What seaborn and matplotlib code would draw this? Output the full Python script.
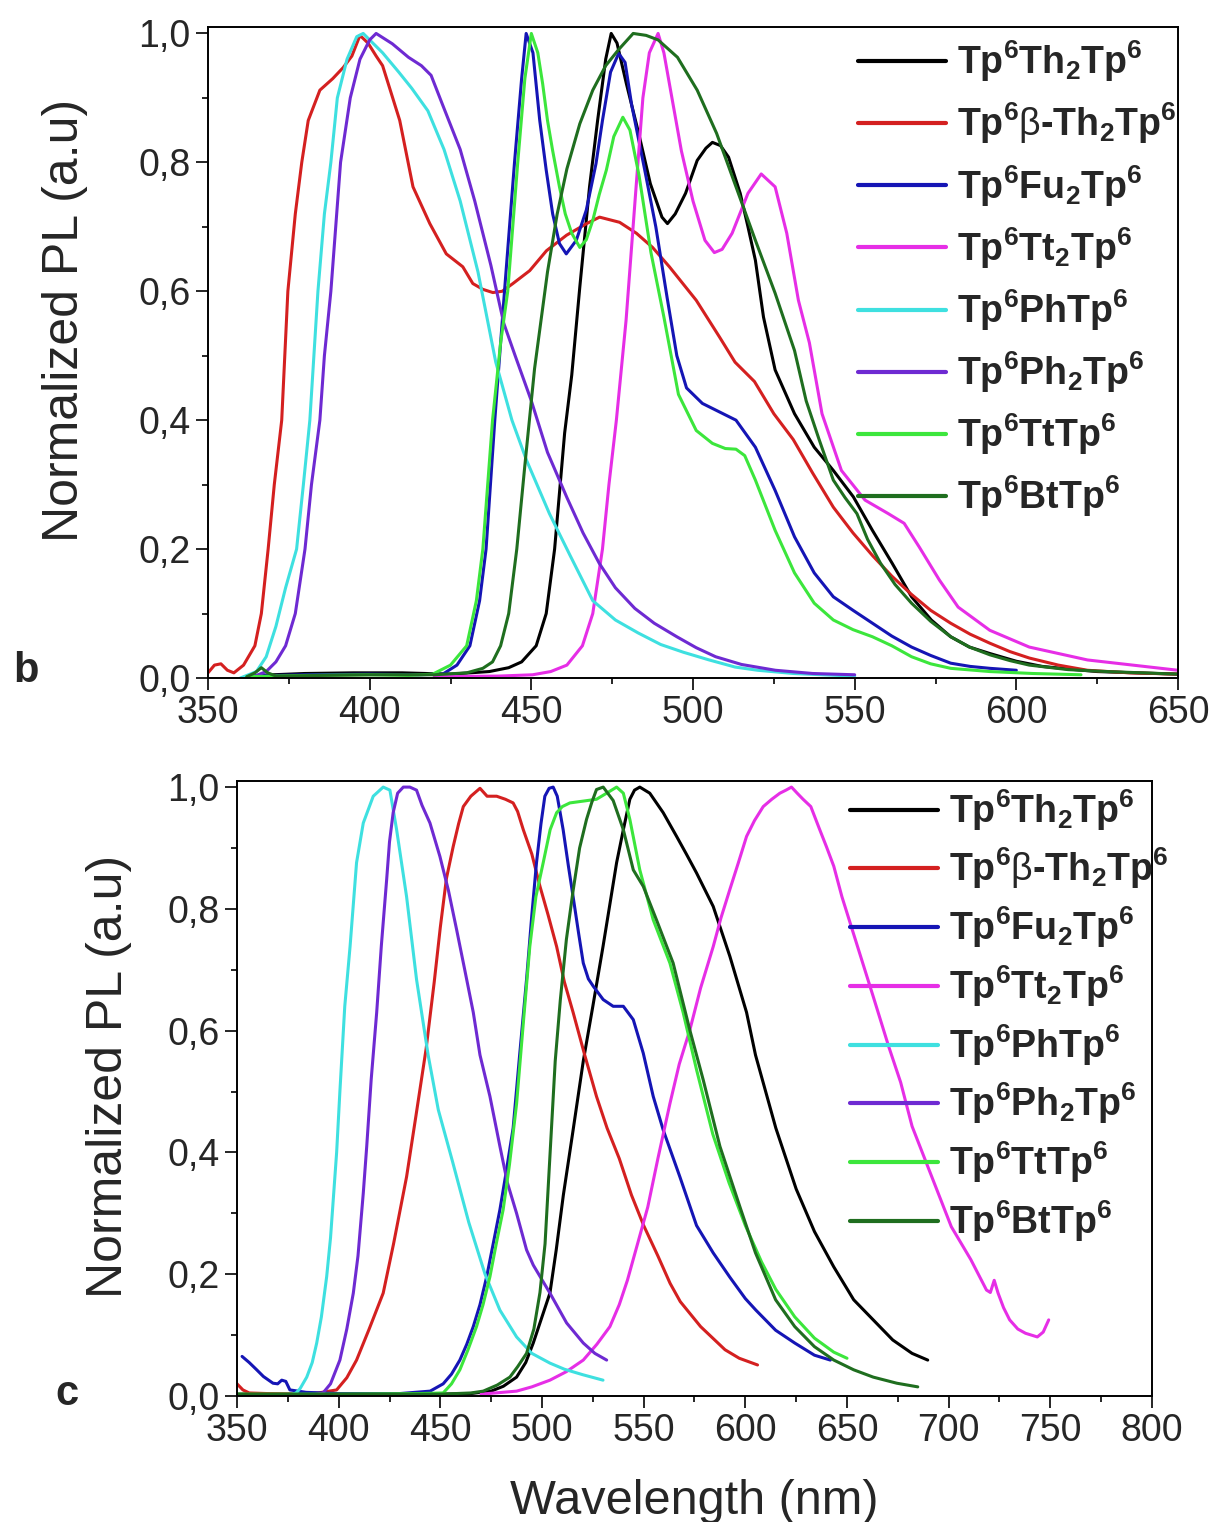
import numpy as np
import pandas as pd
import matplotlib
matplotlib.use("Agg")
import matplotlib.pyplot as plt
import seaborn as sns
from matplotlib.lines import Line2D
from matplotlib.ticker import MultipleLocator, FuncFormatter

# series names, legend labels, colours
names = ["Th2", "bTh2", "Fu2", "Tt2", "Ph", "Ph2", "Tt", "Bt"]
labels = [
    "Tp$^{6}$Th$_{2}$Tp$^{6}$",
    "Tp$^{6}$$\\mathrm{\\beta}$-Th$_{2}$Tp$^{6}$",
    "Tp$^{6}$Fu$_{2}$Tp$^{6}$",
    "Tp$^{6}$Tt$_{2}$Tp$^{6}$",
    "Tp$^{6}$PhTp$^{6}$",
    "Tp$^{6}$Ph$_{2}$Tp$^{6}$",
    "Tp$^{6}$TtTp$^{6}$",
    "Tp$^{6}$BtTp$^{6}$",
]
colors = ["#000000", "#d42020", "#1515b5", "#e62ee6",
          "#3ee0e0", "#6e2ad2", "#3ce63c", "#1f6e1f"]

# ---------------- panel b ----------------
b_th2_x = [365, 380, 395, 410, 425, 437, 443, 447, 451.5, 454.6, 457.2, 460.3, 462.5, 465, 468, 470.5, 473, 474.7,
           476.5, 479.4, 483.2, 486.8, 490.4, 492.1, 494.5, 497.7, 501.3, 504, 506, 508.5, 511, 514.6, 517, 519.3,
           521.8, 525.4, 531.4, 537.5, 543.4, 549.6, 555.5, 561.6, 567.6, 573.7, 579.7, 585.5, 591.8, 600, 608, 616,
           625, 637, 650]
b_th2_y = [0.004, 0.007, 0.008, 0.008, 0.006, 0.01, 0.016, 0.025, 0.05, 0.1, 0.2, 0.38, 0.47, 0.607, 0.762, 0.865,
           0.96, 1.0, 0.985, 0.922, 0.845, 0.767, 0.715, 0.705, 0.72, 0.752, 0.803, 0.822, 0.831, 0.826, 0.808, 0.752,
           0.7, 0.648, 0.56, 0.478, 0.41, 0.358, 0.322, 0.281, 0.229, 0.178, 0.126, 0.09, 0.064, 0.048, 0.038, 0.026,
           0.018, 0.014, 0.01, 0.008, 0.006]

b_bth2_x = [350, 352, 354, 356, 358, 361, 364.5, 366.5, 368.6, 370.5, 372.8, 374.7, 377, 379, 381, 384.6, 388.6,
            391.8, 394.5, 397, 399.5, 402, 404, 406.5, 409.3, 413.4, 418.6, 423.7, 428.8, 431.9, 435, 438.1, 441,
            444.3, 449.5, 454.7, 460.9, 467.1, 471.1, 477.3, 482.5, 487.5, 492.7, 501, 508.2, 513, 519, 525, 531, 537,
            543.4, 549.5, 555.5, 561.5, 567.5, 573.5, 579.7, 585.7, 591.8, 598, 604, 613, 622, 635, 650]
b_bth2_y = [0.008, 0.02, 0.022, 0.012, 0.008, 0.02, 0.05, 0.1, 0.2, 0.3, 0.4, 0.6, 0.72, 0.8, 0.865, 0.912, 0.93,
            0.947, 0.965, 0.997, 0.985, 0.965, 0.95, 0.91, 0.865, 0.762, 0.705, 0.658, 0.638, 0.612, 0.603, 0.598,
            0.6, 0.612, 0.632, 0.663, 0.687, 0.705, 0.715, 0.707, 0.69, 0.668, 0.638, 0.586, 0.529, 0.49, 0.46, 0.41,
            0.37, 0.318, 0.265, 0.225, 0.19, 0.158, 0.13, 0.105, 0.085, 0.068, 0.054, 0.041, 0.031, 0.02, 0.012,
            0.008, 0.006]

b_fu2_x = [362, 380, 400, 415, 422.6, 427, 431, 434, 436, 438.7, 441.7, 444.8, 447, 448.4, 450.5, 452.6, 454.6,
           456.6, 458.7, 460.8, 463.9, 467, 470, 472, 474.5, 477, 479, 481, 485, 488.5, 492, 495, 498, 502.9, 507.3,
           513.3, 519.3, 525.4, 531.4, 537.5, 543.4, 549.5, 555.5, 561.5, 567.6, 573.5, 579.7, 585.7, 591.8, 600]
b_fu2_y = [0.003, 0.005, 0.006, 0.005, 0.006, 0.02, 0.05, 0.12, 0.2, 0.4, 0.6, 0.8, 0.93, 1.0, 0.97, 0.865, 0.788,
           0.72, 0.674, 0.658, 0.679, 0.726, 0.798, 0.865, 0.94, 0.969, 0.955, 0.89, 0.79, 0.70, 0.59, 0.50, 0.45,
           0.426, 0.415, 0.40, 0.358, 0.291, 0.219, 0.163, 0.126, 0.105, 0.085, 0.065, 0.048, 0.035, 0.023, 0.018,
           0.015, 0.012]

b_tt2_x = [420, 440, 450.4, 456, 461, 465.8, 469, 472, 474, 476.3, 479.3, 482.4, 484.5, 486.5, 489.2, 491, 492.7,
           496.4, 500, 503.7, 506.6, 509, 512.1, 517, 521.1, 525.4, 529, 532.6, 536, 539.9, 545.9, 553.2, 560.4,
           565.3, 570, 576.2, 582, 591.8, 604, 622, 650]
b_tt2_y = [0.002, 0.003, 0.005, 0.01, 0.02, 0.05, 0.1, 0.2, 0.3, 0.4, 0.555, 0.762, 0.9, 0.97, 1.0, 0.97, 0.922,
           0.818, 0.74, 0.679, 0.66, 0.665, 0.69, 0.752, 0.782, 0.762, 0.69, 0.586, 0.52, 0.41, 0.322, 0.276, 0.255,
           0.24, 0.203, 0.152, 0.11, 0.074, 0.048, 0.028, 0.012]

b_ph_x = [360, 365, 368, 371, 374, 377.4, 379.5, 381.5, 384, 386, 388, 390, 393, 396, 398, 401, 404, 409, 413, 418,
          423, 428, 433.5, 439, 444, 448.5, 455.6, 462, 469, 476, 483, 490, 497, 505, 513, 520, 531, 540, 550]
b_ph_y = [0.0, 0.01, 0.033, 0.08, 0.14, 0.2, 0.3, 0.4, 0.6, 0.72, 0.8, 0.9, 0.96, 0.995, 1.0, 0.985, 0.97, 0.94,
          0.915, 0.88, 0.82, 0.74, 0.63, 0.49, 0.40, 0.338, 0.255, 0.19, 0.12, 0.09, 0.07, 0.052, 0.04, 0.028, 0.017,
          0.012, 0.007, 0.005, 0.003]

b_ph2_x = [363, 368, 371, 374, 377, 380, 382, 384.6, 386, 388, 391, 394, 397, 400, 402, 407, 412, 416, 419, 422.5,
           428, 432.5, 437.5, 441.5, 445, 450, 455, 461, 466, 471, 476, 482, 488, 495, 501, 507, 515, 525.5, 537, 550]
b_ph2_y = [0.0, 0.01, 0.025, 0.05, 0.1, 0.2, 0.3, 0.4, 0.5, 0.6, 0.8, 0.9, 0.96, 0.99, 1.0, 0.984, 0.963, 0.95,
           0.935, 0.89, 0.82, 0.74, 0.64, 0.55, 0.5, 0.43, 0.35, 0.28, 0.225, 0.178, 0.14, 0.108, 0.085, 0.064,
           0.047, 0.033, 0.021, 0.012, 0.007, 0.005]

b_tt_x = [362, 380, 400, 412, 419.5, 425, 430, 433, 435, 438, 440.5, 442.7, 445.8, 448, 450, 452, 453.5, 455, 456.6,
          458.7, 460.5, 462.5, 465, 467, 469, 471, 473.2, 475.5, 478.3, 480.5, 483.3, 487, 491, 495.5, 501, 506, 510,
          513.3, 516, 519.3, 525.4, 531.4, 537.5, 543.4, 549.5, 555.5, 561.5, 567.6, 573.5, 579.7, 591.8, 605, 620]
b_tt_y = [0.002, 0.004, 0.005, 0.004, 0.006, 0.02, 0.05, 0.12, 0.2, 0.4, 0.52, 0.6, 0.8, 0.93, 1.0, 0.97, 0.922,
          0.865, 0.818, 0.762, 0.72, 0.69, 0.668, 0.68, 0.71, 0.75, 0.788, 0.84, 0.87, 0.85, 0.78, 0.66, 0.56, 0.44,
          0.384, 0.364, 0.356, 0.355, 0.345, 0.307, 0.229, 0.163, 0.116, 0.09, 0.075, 0.064, 0.05, 0.033, 0.022,
          0.015, 0.01, 0.007, 0.005]

b_bt_x = [362, 364.5, 366.5, 368.5, 371, 385, 400, 420, 430, 435, 438, 440.5, 443, 445.5, 448, 451, 455, 458, 461,
          465, 469, 473, 477, 481.5, 485.5, 489.2, 495.2, 501.3, 507.3, 513.3, 519.3, 525.4, 531.4, 535, 539, 543.4,
          547, 550.7, 554, 558, 562.5, 567.6, 573.5, 579.7, 585.5, 591.8, 598, 604, 616, 628, 650]
b_bt_y = [0.002, 0.008, 0.016, 0.008, 0.003, 0.004, 0.005, 0.005, 0.008, 0.015, 0.025, 0.05, 0.1, 0.2, 0.33, 0.48,
          0.63, 0.72, 0.79, 0.86, 0.912, 0.95, 0.975, 1.0, 0.997, 0.99, 0.963, 0.912, 0.845, 0.762, 0.679, 0.597,
          0.508, 0.43, 0.37, 0.307, 0.28, 0.255, 0.215, 0.178, 0.145, 0.116, 0.088, 0.064, 0.048, 0.036, 0.027,
          0.02, 0.013, 0.01, 0.006]

# ---------------- panel c ----------------
c_th2_x = [350, 400, 450, 465, 475, 481, 487.5, 492, 495.7, 500, 503.9, 507, 510.5, 515, 520.3, 525, 530, 533.5,
           536.7, 540, 543.2, 545.5, 548.1, 553, 559.6, 566.2, 571, 576, 584.2, 592.4, 600.6, 605, 610, 615, 620,
           625, 634, 643.5, 653.3, 662.9, 672.5, 682, 689.7]
c_th2_y = [0.003, 0.003, 0.003, 0.004, 0.008, 0.016, 0.031, 0.055, 0.087, 0.13, 0.169, 0.24, 0.33, 0.43, 0.55, 0.64,
           0.738, 0.81, 0.876, 0.93, 0.98, 0.995, 1.0, 0.99, 0.958, 0.919, 0.89, 0.859, 0.804, 0.722, 0.63, 0.56,
           0.50, 0.44, 0.39, 0.34, 0.27, 0.212, 0.158, 0.125, 0.092, 0.07, 0.059]

c_bth2_x = [350, 352.9, 356, 365, 380, 390, 399, 404, 408.8, 415, 421.9, 427, 433.4, 438, 443, 447, 450, 453, 456.3,
            459, 461.3, 465, 469.5, 473, 477.7, 482, 485.8, 488, 490.8, 495, 499, 503, 507.2, 511, 515.3, 521, 526.8,
            532, 538, 544, 550, 557, 563, 568, 578, 590, 597, 606]
c_bth2_y = [0.02, 0.01, 0.005, 0.004, 0.003, 0.005, 0.01, 0.03, 0.059, 0.11, 0.169, 0.25, 0.36, 0.46, 0.57, 0.68,
            0.77, 0.85, 0.902, 0.94, 0.968, 0.985, 0.998, 0.985, 0.985, 0.98, 0.974, 0.96, 0.93, 0.89, 0.837, 0.79,
            0.738, 0.68, 0.63, 0.56, 0.492, 0.44, 0.39, 0.33, 0.28, 0.23, 0.185, 0.155, 0.114, 0.076, 0.062, 0.051]

c_fu2_x = [352.5, 356, 359.7, 363, 367.7, 370, 372, 374, 376, 380, 384, 400, 430, 445, 451.4, 455.5, 459.6, 463,
           466.2, 469.5, 472.8, 476, 479.3, 482, 485.8, 489, 492.4, 495, 497.3, 499.5, 501.4, 503.5, 505.5, 507.5,
           510.4, 513, 515.3, 518, 520.3, 522.8, 525.2, 530.1, 535, 540, 544.9, 549.8, 554.7, 559.6, 567.8, 576,
           584.2, 592.4, 600, 605.2, 614.9, 624.3, 634, 641.8]
c_fu2_y = [0.065, 0.055, 0.043, 0.032, 0.021, 0.02, 0.026, 0.024, 0.01, 0.008, 0.006, 0.004, 0.004, 0.008, 0.02,
           0.036, 0.059, 0.085, 0.114, 0.15, 0.196, 0.25, 0.306, 0.36, 0.44, 0.56, 0.684, 0.79, 0.876, 0.94, 0.985,
           0.998, 1.0, 0.985, 0.93, 0.87, 0.82, 0.76, 0.711, 0.685, 0.673, 0.651, 0.64, 0.64, 0.618, 0.563, 0.492,
           0.437, 0.36, 0.28, 0.235, 0.195, 0.16, 0.141, 0.108, 0.087, 0.067, 0.059]

c_tt2_x = [470, 487.5, 495, 503.9, 512, 520.3, 527, 533.4, 538, 542, 547, 552, 557, 562.9, 567.5, 572.7, 578, 584.2,
           588, 592.4, 596.5, 600.6, 604.5, 608.8, 613, 617, 620, 622.7, 625.5, 628.4, 632.2, 636.6, 639.9, 643.5,
           647.5, 655.2, 662.9, 670.5, 676.4, 682, 691.7, 701.3, 710.9, 718.6, 720.5, 722.4, 724.3, 727, 730, 734,
           737.8, 743.6, 746.5, 749.2]
c_tt2_y = [0.003, 0.008, 0.015, 0.026, 0.04, 0.059, 0.085, 0.114, 0.15, 0.19, 0.25, 0.31, 0.39, 0.48, 0.545, 0.601,
           0.67, 0.738, 0.785, 0.832, 0.875, 0.919, 0.945, 0.968, 0.98, 0.99, 0.995, 1.0, 0.99, 0.98, 0.968, 0.93,
           0.902, 0.87, 0.82, 0.738, 0.656, 0.574, 0.515, 0.443, 0.36, 0.278, 0.224, 0.174, 0.17, 0.19, 0.169, 0.145,
           0.125, 0.11, 0.103, 0.097, 0.105, 0.125]

c_ph_x = [375, 379, 381, 384.3, 387, 389.2, 391.5, 394.1, 396, 399, 400.6, 403, 405.6, 408.8, 412.1, 417, 421.9,
          425.2, 428.5, 433.4, 438.3, 444, 449, 456, 464, 472, 479.3, 487.5, 495, 503.9, 511, 520, 530]
c_ph_y = [0.0, 0.005, 0.012, 0.031, 0.055, 0.087, 0.13, 0.196, 0.26, 0.40, 0.5, 0.64, 0.738, 0.876, 0.941, 0.985,
          1.0, 0.995, 0.93, 0.82, 0.684, 0.56, 0.47, 0.385, 0.285, 0.2, 0.141, 0.097, 0.07, 0.054, 0.044, 0.035,
          0.026]

c_ph2_x = [385, 392.3, 396, 400.6, 404, 407.2, 409.5, 412.1, 413.8, 416, 418.7, 421, 423.6, 425, 426.8, 429, 431.8,
           435, 438.3, 441, 444.9, 449.8, 454, 458, 462, 466.2, 469.5, 474.4, 479.3, 483, 487.5, 492.4, 495.7, 503.9,
           512.1, 520.3, 526, 531.8]
c_ph2_y = [0.0, 0.005, 0.02, 0.059, 0.11, 0.169, 0.23, 0.333, 0.41, 0.52, 0.63, 0.74, 0.848, 0.91, 0.958, 0.99,
           1.0, 1.0, 0.995, 0.97, 0.941, 0.886, 0.83, 0.766, 0.70, 0.63, 0.56, 0.492, 0.41, 0.35, 0.30, 0.24, 0.215,
           0.169, 0.12, 0.087, 0.07, 0.059]

c_tt_x = [350, 400, 440, 451.4, 455.5, 459.6, 463.5, 467.8, 471, 474.4, 477.5, 480.9, 484, 487.5, 491, 494, 497,
          500.6, 504, 507.2, 510, 513.7, 520.3, 526.8, 531.8, 536.7, 540, 543.2, 548.1, 554.7, 562.9, 569.4, 576,
          584, 592, 600, 608, 615, 624.3, 634, 643.5, 650]
c_tt_y = [0.003, 0.003, 0.004, 0.005, 0.02, 0.043, 0.075, 0.114, 0.15, 0.196, 0.25, 0.306, 0.38, 0.48, 0.62, 0.738,
          0.82, 0.876, 0.93, 0.958, 0.968, 0.974, 0.977, 0.98, 0.99, 1.0, 0.99, 0.947, 0.864, 0.782, 0.711, 0.63,
          0.536, 0.43, 0.35, 0.28, 0.22, 0.175, 0.13, 0.095, 0.072, 0.062]

c_bt_x = [350, 400, 450, 465, 471.1, 478, 484.2, 488, 492.4, 496, 499, 501.5, 504, 506.5, 509, 512, 515.3, 518.5,
          521.9, 524.5, 526.8, 530.1, 535, 540, 544.9, 549.8, 556.3, 564.5, 572.7, 579.3, 587.5, 597.3, 605, 614.9,
          624.3, 634, 643.5, 653.3, 662.9, 674.5, 684.8]
c_bt_y = [0.003, 0.003, 0.003, 0.005, 0.008, 0.018, 0.031, 0.048, 0.07, 0.11, 0.17, 0.25, 0.4, 0.55, 0.65, 0.75,
          0.83, 0.9, 0.947, 0.975, 0.996, 1.0, 0.978, 0.93, 0.864, 0.837, 0.782, 0.711, 0.601, 0.519, 0.41, 0.311,
          0.235, 0.158, 0.114, 0.081, 0.059, 0.043, 0.031, 0.021, 0.015]

b_series = [(b_th2_x, b_th2_y), (b_bth2_x, b_bth2_y), (b_fu2_x, b_fu2_y), (b_tt2_x, b_tt2_y),
            (b_ph_x, b_ph_y), (b_ph2_x, b_ph2_y), (b_tt_x, b_tt_y), (b_bt_x, b_bt_y)]
c_series = [(c_th2_x, c_th2_y), (c_bth2_x, c_bth2_y), (c_fu2_x, c_fu2_y), (c_tt2_x, c_tt2_y),
            (c_ph_x, c_ph_y), (c_ph2_x, c_ph2_y), (c_tt_x, c_tt_y), (c_bt_x, c_bt_y)]


def long_table(series):
    parts = []
    for name, (xs, ys) in zip(names, series):
        parts.append(pd.DataFrame({"wl": xs, "pl": ys, "name": name}))
    return pd.concat(parts, ignore_index=True)


sns.set_style("ticks")
plt.rcParams["font.family"] = ["Liberation Sans", "DejaVu Sans"]
plt.rcParams["mathtext.fontset"] = "custom"
plt.rcParams["mathtext.rm"] = "Liberation Sans"
plt.rcParams["mathtext.bf"] = "Liberation Sans:bold"
plt.rcParams["mathtext.default"] = "bf"

fig = plt.figure(figsize=(12.13, 15.22), dpi=100)
ax1 = fig.add_axes([208 / 1213, 1 - 678 / 1522, 970 / 1213, 651 / 1522])
ax2 = fig.add_axes([237 / 1213, 1 - 1396 / 1522, 915 / 1213, 615 / 1522])

palette = dict(zip(names, colors))
comma = FuncFormatter(lambda v, p: f"{v:.1f}".replace(".", ","))

# axis, data, x range, legend anchor, legend spacing, y-label position
panels = [(ax1, b_series, (350, 650), (0.67, 0.982), 0.44, -0.124, 0.55),
          (ax2, c_series, (350, 800), (0.67, 0.99), 0.35, -0.115, 0.52)]

for ax, series, xlim, leg_pos, leg_space, ylab_x, ylab_y in panels:
    df = long_table(series)
    sns.lineplot(data=df, x="wl", y="pl", hue="name", hue_order=names, palette=palette,
                 sort=False, estimator=None, linewidth=2.2, legend=False, ax=ax)
    ax.set_xlim(*xlim)
    ax.set_ylim(0, 1.01)
    ax.xaxis.set_major_locator(MultipleLocator(50))
    ax.xaxis.set_minor_locator(MultipleLocator(25))
    ax.yaxis.set_major_locator(MultipleLocator(0.2))
    ax.yaxis.set_minor_locator(MultipleLocator(0.1))
    ax.yaxis.set_major_formatter(comma)
    ax.tick_params(which="major", direction="out", length=8.5, width=1.4, labelsize=27, pad=4,
                   top=False, right=False)
    ax.tick_params(which="minor", direction="out", length=4.5, width=1.4, top=False, right=False)
    for sp in ax.spines.values():
        sp.set_visible(True)
        sp.set_linewidth(1.4)
        sp.set_color("black")
    ax.set_ylabel("Normalized PL (a.u)", fontsize=36)
    ax.yaxis.set_label_coords(ylab_x, ylab_y)
    ax.set_xlabel("")

    handles = [Line2D([], [], color=c, lw=3) for c in colors]
    ax.legend(handles, labels, loc="upper left", bbox_to_anchor=leg_pos, frameon=False,
              borderpad=0, borderaxespad=0, handlelength=2.35, handletextpad=0.3,
              labelspacing=leg_space, prop={"family": "Liberation Sans", "weight": "bold", "size": 27})

ax2.set_xlabel("Wavelength (nm)", fontsize=35)
ax2.xaxis.set_label_coords(0.5, -0.135)

fig.text(13 / 1213, 1 - 682 / 1522, "b", fontsize=30, fontweight="bold", va="baseline")
fig.text(55 / 1213, 1 - 1405 / 1522, "c", fontsize=30, fontweight="bold", va="baseline")

fig.savefig("out.png", dpi=100)
